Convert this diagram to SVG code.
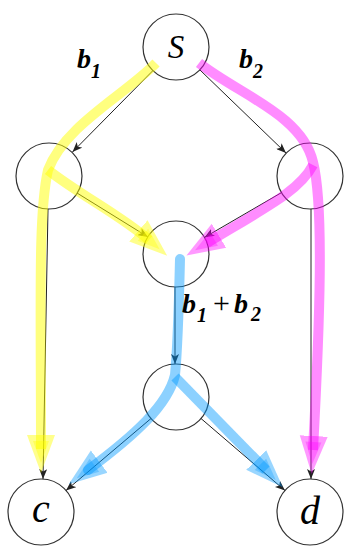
<svg xmlns="http://www.w3.org/2000/svg" width="346" height="546" viewBox="0 0 346 546">
<style>
.node{fill:#fff;stroke:#333;stroke-width:1.2}
.edge{fill:none;stroke:#222;stroke-width:1}
.flow{fill:none;stroke-width:10;stroke-linecap:butt}
.y{stroke:#ffff00;stroke-opacity:0.5}
.m{stroke:#ff00ff;stroke-opacity:0.45}
.b{stroke:#0099ff;stroke-opacity:0.45}
.lbl{font-family:"Liberation Serif","Times New Roman",serif;font-style:italic;fill:#000}
.bl{font-family:"Liberation Serif","Times New Roman",serif;font-style:italic;font-weight:bold;font-size:28px;fill:#000}
</style>
<defs>
<marker id="ah" markerUnits="userSpaceOnUse" viewBox="0 0 10 8" markerWidth="10" markerHeight="8" refX="10" refY="4" orient="auto"><path d="M0,0 L10,4 L0,8 L2.5,4 Z" fill="#222"/></marker>
<marker id="ay" markerUnits="userSpaceOnUse" viewBox="0 0 38 30" markerWidth="38" markerHeight="30" refX="14" refY="15" orient="auto"><path d="M0,1 L38,15 L0,29 Z" fill="#ffff00" fill-opacity="0.45"/><path d="M6,7 L28,15 L6,23 Z" fill="#ffff00" fill-opacity="0.35"/></marker>
<marker id="am" markerUnits="userSpaceOnUse" viewBox="0 0 38 30" markerWidth="38" markerHeight="30" refX="14" refY="15" orient="auto"><path d="M0,1 L38,15 L0,29 Z" fill="#ff00ff" fill-opacity="0.4"/><path d="M6,7 L28,15 L6,23 Z" fill="#ff00ff" fill-opacity="0.3"/></marker>
<marker id="ab" markerUnits="userSpaceOnUse" viewBox="0 0 38 30" markerWidth="38" markerHeight="30" refX="14" refY="15" orient="auto"><path d="M0,1 L38,15 L0,29 Z" fill="#0099ff" fill-opacity="0.4"/><path d="M6,7 L28,15 L6,23 Z" fill="#0099ff" fill-opacity="0.3"/></marker>
</defs>
<g id="node-s"><circle class="node" cx="176" cy="47" r="33"/><text class="lbl" x="176" y="58" font-size="33" text-anchor="middle">S</text></g>
<g id="node-l"><circle class="node" cx="49" cy="176" r="33"/></g>
<g id="node-r"><circle class="node" cx="310" cy="176" r="33"/></g>
<g id="node-m"><circle class="node" cx="176" cy="254" r="33"/></g>
<g id="node-n"><circle class="node" cx="176" cy="397" r="33"/></g>
<g id="node-c"><circle class="node" cx="41" cy="512" r="33"/><text class="lbl" x="41" y="522" font-size="40" text-anchor="middle">c</text></g>
<g id="node-d"><circle class="node" cx="310" cy="512" r="33"/><text class="lbl" x="310" y="524" font-size="40" text-anchor="middle">d</text></g>
<g id="connectors">
<path class="edge" marker-end="url(#ah)" d="M153 70.5 L72.5 152"/>
<path class="edge" marker-end="url(#ah)" d="M200 70 L286 153"/>
<path class="edge" marker-end="url(#ah)" d="M77 193 L148 237"/>
<path class="edge" marker-end="url(#ah)" d="M281.5 192.6 L204.5 237.4"/>
<path class="edge" marker-end="url(#ah)" d="M48 209 L43 479"/>
<path class="edge" marker-end="url(#ah)" d="M311 209 L311 479"/>
<path class="edge" marker-end="url(#ah)" d="M175 287 L175 364"/>
<path class="edge" marker-end="url(#ah)" d="M151 418.5 L66 490.5"/>
<path class="edge" marker-end="url(#ah)" d="M201 418.5 L285 490.5"/>
</g>
<g id="flows">
<path class="flow y" marker-end="url(#ay)" d="M156 63 C125 95 65 125 48 170 C38 215 41 300 41 449"/>
<path class="flow y" marker-end="url(#ay)" d="M48 170 C80 195 120 215 149 240"/>
<path class="flow m" marker-end="url(#am)" d="M199 63 C240 95 302 115 313 162 C324 205 320 320 313 450"/>
<path class="flow m" marker-end="url(#am)" d="M313 165 C300 190 270 205 207 243"/>
<path class="flow b" style="stroke-linecap:round" marker-end="url(#ab)" d="M180 259 C179 300 178 345 175 375 C168 405 135 435 88 470"/>
<path class="flow b" marker-end="url(#ab)" d="M175 377 L266 470"/>
</g>
<g id="labels">
<text class="bl" x="77" y="68">b<tspan font-size="20" dy="10">1</tspan></text>
<text class="bl" x="239" y="68">b<tspan font-size="20" dy="10">2</tspan></text>
<text class="bl" y="313"><tspan x="182">b</tspan><tspan x="197" dy="9" font-size="20">1</tspan><tspan x="213" dy="-9" font-size="30" font-weight="normal" font-style="normal">+</tspan><tspan x="234">b</tspan><tspan x="251" dy="8" font-size="20">2</tspan></text>
</g>
</svg>
